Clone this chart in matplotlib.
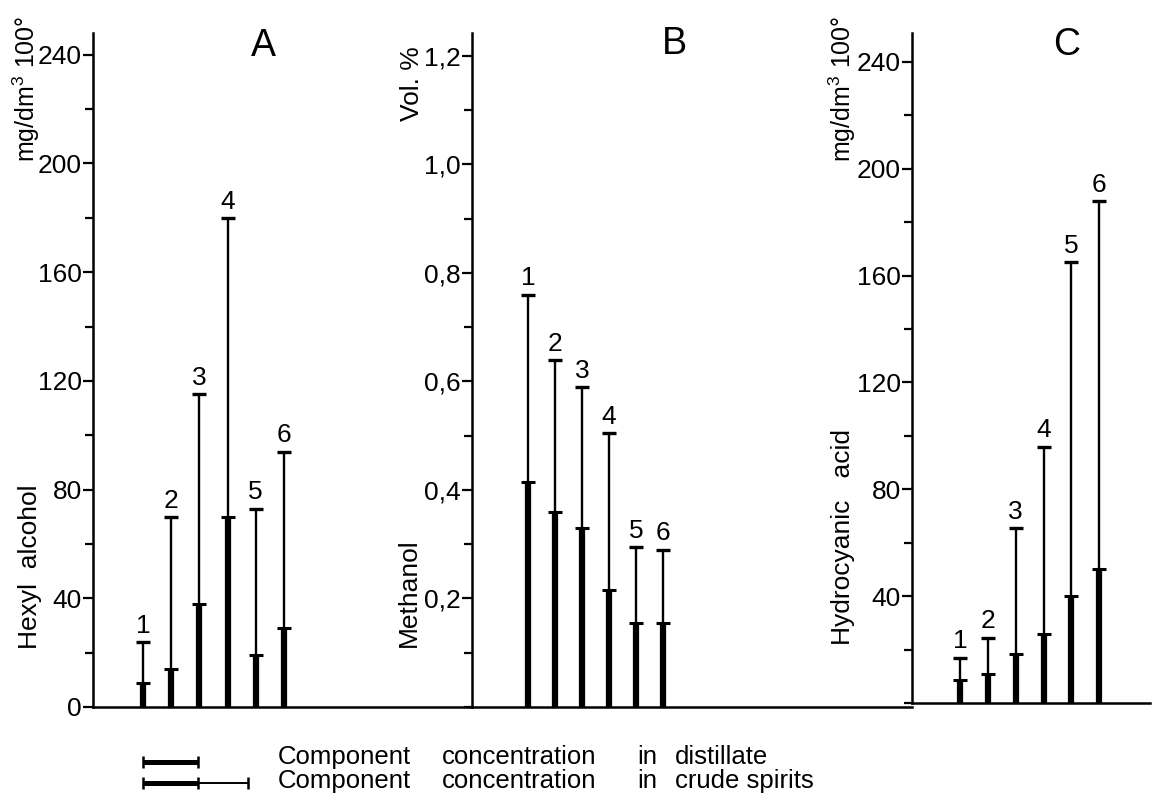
import numpy as np
import matplotlib
matplotlib.use("Agg")
from matplotlib import pyplot as plt

plt.rcParams['font.family'] = ['Liberation Sans', 'DejaVu Sans']
plt.rcParams['mathtext.fontset'] = 'custom'
plt.rcParams['mathtext.rm'] = 'Liberation Sans'
plt.rcParams['mathtext.it'] = 'Liberation Sans:italic'

muestras = [1, 2, 3, 4, 5, 6]

# A: alcohol hexilico (mg/dm3 100°)
hexilico_destilado = [9, 14, 38, 70, 19, 29]
hexilico_crudo = [24, 70, 115, 180, 73, 94]
ticks_a = [0, 40, 80, 120, 160, 200, 240]
etiquetas_a = ['0', '40', '80', '120', '160', '200', '240']

# B: metanol (Vol. %)
metanol_destilado = [0.415, 0.36, 0.33, 0.215, 0.155, 0.155]
metanol_crudo = [0.76, 0.64, 0.59, 0.505, 0.295, 0.29]
ticks_b = [0.2, 0.4, 0.6, 0.8, 1.0, 1.2]
etiquetas_b = ['0,2', '0,4', '0,6', '0,8', '1,0', '1,2']

# C: acido cianhidrico (mg/dm3 100°)
cianhidrico_destilado = [8.5, 11, 18.5, 26, 40, 50]
cianhidrico_crudo = [17, 24.5, 65.5, 96, 165, 188]
ticks_c = [40, 80, 120, 160, 200, 240]
etiquetas_c = ['40', '80', '120', '160', '200', '240']

# textos de la leyenda
palabras_1 = ['Component', 'concentration', 'in', 'distillate']
palabras_2 = ['Component', 'concentration', 'in', 'crude spirits']

W, H = 1152, 801


def dibujar_panel(ax, destilado, crudo, ymax, xlim, ticks, etiquetas, menor):
    x = np.array(muestras)
    ax.vlines(x, 0, destilado, color='black', lw=4.5)
    ax.vlines(x, destilado, crudo, color='black', lw=1.7)
    ax.plot(x, destilado, '_', color='black', ms=10, mew=2.2)
    ax.plot(x, crudo, '_', color='black', ms=10, mew=2.4)
    for xi, yi, n in zip(x, crudo, muestras):
        ax.annotate(str(n), (xi, yi), xytext=(0, 3), textcoords='offset points',
                    ha='center', va='bottom', fontsize=19)
    ax.set_xlim(*xlim)
    ax.set_ylim(0, ymax)
    ax.set_xticks([])
    ax.set_yticks(ticks)
    ax.set_yticklabels(etiquetas)
    ax.yaxis.set_minor_locator(plt.MultipleLocator(menor))
    ax.spines[['top', 'right']].set_visible(False)
    ax.spines['left'].set_linewidth(1.8)
    ax.spines['bottom'].set_linewidth(1.8)
    ax.tick_params(axis='y', which='major', length=7, width=1.6, pad=1, labelsize=19)
    ax.tick_params(axis='y', which='minor', length=6, width=1.6)
    ax.patch.set_alpha(0)


fig = plt.figure(figsize=(W / 100, H / 100), dpi=100)

ax_a = fig.add_axes([93 / W, 1 - 707 / H, (472 - 93) / W, (707 - 33) / H])
ax_b = fig.add_axes([472 / W, 1 - 707 / H, (912 - 472) / W, (707 - 33) / H])
ax_c = fig.add_axes([912 / W, 1 - 703 / H, (1150 - 912) / W, (703 - 33) / H])

dibujar_panel(ax_a, hexilico_destilado, hexilico_crudo, 248, (-0.77, 12.67), ticks_a, etiquetas_a, 20)
dibujar_panel(ax_b, metanol_destilado, metanol_crudo, 1.242, (-1.07, 15.2), ticks_b, etiquetas_b, 0.1)
dibujar_panel(ax_c, cianhidrico_destilado, cianhidrico_crudo, 250.8, (-0.73, 7.83), ticks_c, etiquetas_c, 20)

# letras de los paneles
fig.text(263 / W, 1 - 46 / H, 'A', ha='center', va='center', fontsize=27)
fig.text(674 / W, 1 - 44 / H, 'B', ha='center', va='center', fontsize=27)
fig.text(1067 / W, 1 - 45 / H, 'C', ha='center', va='center', fontsize=27)

# titulos de ejes
unidad = 'mg/dm$^{3}$ 100°'
fig.text(26 / W, 1 - 16 / H, unidad, rotation=90, ha='center', va='top', fontsize=18)
fig.text(30 / W, 1 - 567 / H, 'Hexyl  alcohol', rotation=90, ha='center', va='center', fontsize=19)
fig.text(412 / W, 1 - 84 / H, 'Vol. %', rotation=90, ha='center', va='center', fontsize=19)
fig.text(409 / W, 1 - 593 / H, 'Methanol', rotation=90, ha='center', va='center', fontsize=19)
fig.text(842 / W, 1 - 16 / H, unidad, rotation=90, ha='center', va='top', fontsize=18)
fig.text(843 / W, 1 - 537 / H, 'Hydrocyanic   acid', rotation=90, ha='center', va='center', fontsize=19)

# leyenda
leg = fig.add_axes([140 / W, 1 - 795 / H, 115 / W, 50 / H])
leg.set_xlim(0, 1)
leg.set_ylim(0, 1)
leg.axis('off')
leg.plot([0.03, 0.50], [0.66, 0.66], color='black', lw=3.6, solid_capstyle='butt')
leg.plot([0.03, 0.50], [0.66, 0.66], '|', color='black', ms=8, mew=1.8)
leg.plot([0.03, 0.50], [0.24, 0.24], color='black', lw=3.6, solid_capstyle='butt')
leg.plot([0.50, 0.94], [0.24, 0.24], color='black', lw=1.4, solid_capstyle='butt')
leg.plot([0.03, 0.50, 0.94], [0.24, 0.24, 0.24], '|', color='black', ms=8, mew=1.8)

x_palabras = [278, 442, 637, 675]
for xp, p1, p2 in zip(x_palabras, palabras_1, palabras_2):
    fig.text(xp / W, 1 - 757 / H, p1, va='center', fontsize=18.5)
    fig.text(xp / W, 1 - 781 / H, p2, va='center', fontsize=18.5)

plt.savefig('out.png', dpi=100)
